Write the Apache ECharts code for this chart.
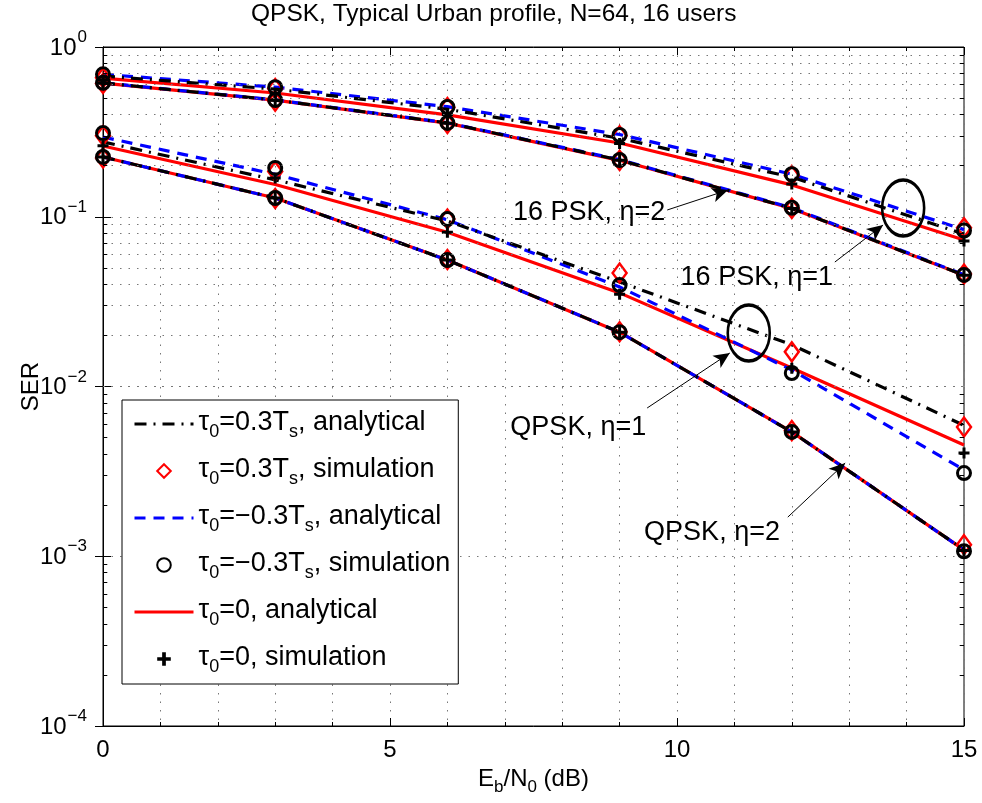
<!DOCTYPE html>
<html><head><meta charset="utf-8">
<script src="https://cdn.jsdelivr.net/npm/echarts@6/dist/echarts.min.js"></script>
<style>html,body{margin:0;padding:0;background:#fff}#c{width:982px;height:803px}</style>
</head><body><div id="c"></div>
<script>
// ---- data (Eb/N0 in dB, SER) ----
const EbN0 = [0, 3, 6, 9, 12, 15];
// groups: A = 16PSK eta=1, B = 16PSK eta=2, C = QPSK eta=1, D = QPSK eta=2
// tau0 = 0.3Ts, analytical
const an03_A = [0.675, 0.565, 0.43, 0.29, 0.171, 0.079];
const an03_B = [0.614, 0.487, 0.357, 0.216, 0.112, 0.0452];
const an03_C = [0.276, 0.165, 0.0944, 0.0413, 0.0176, 0.0059];
const an03_D = [0.225, 0.129, 0.0556, 0.0209, 0.0054, 0.00109];
// tau0 = -0.3Ts, analytical
const anm03_A = [0.69, 0.58, 0.445, 0.305, 0.178, 0.084];
const anm03_B = [0.615, 0.488, 0.358, 0.217, 0.113, 0.0455];
const anm03_C = [0.295, 0.178, 0.096, 0.0386, 0.0125, 0.00323];
const anm03_D = [0.225, 0.129, 0.0556, 0.0209, 0.0054, 0.00109];
// tau0 = 0, analytical
const an0_A = [0.655, 0.536, 0.398, 0.272, 0.154, 0.073];
const an0_B = [0.612, 0.486, 0.356, 0.215, 0.112, 0.0452];
const an0_C = [0.261, 0.155, 0.081, 0.0356, 0.01285, 0.00452];
const an0_D = [0.225, 0.129, 0.0556, 0.0209, 0.0054, 0.00109];
// tau0 = 0.3Ts, simulation
const sim03_A = [0.66, 0.57, 0.44, 0.30, 0.175, 0.086];
const sim03_B = [0.61, 0.48, 0.355, 0.215, 0.112, 0.046];
const sim03_C = [0.30, 0.185, 0.097, 0.0466, 0.016, 0.00577];
const sim03_D = [0.222, 0.128, 0.056, 0.021, 0.0055, 0.00117];
// tau0 = -0.3Ts, simulation
const simm03_A = [0.69, 0.58, 0.443, 0.303, 0.178, 0.083];
const simm03_B = [0.615, 0.487, 0.357, 0.216, 0.113, 0.0454];
const simm03_C = [0.311, 0.194, 0.097, 0.0396, 0.012, 0.00309];
const simm03_D = [0.225, 0.129, 0.0556, 0.0209, 0.0054, 0.00107];
// tau0 = 0, simulation
const sim0_A = [0.64, 0.53, 0.40, 0.27, 0.156, 0.072];
const sim0_B = [0.612, 0.486, 0.356, 0.215, 0.112, 0.0453];
const sim0_C = [0.262, 0.169, 0.081, 0.035, 0.0128, 0.00406];
const sim0_D = [0.225, 0.129, 0.0556, 0.0209, 0.0054, 0.00108];

const xTicks = [0, 5, 10, 15];
const yDecades = [1e-4, 1e-3, 1e-2, 1e-1, 1];

// annotations (data coordinates)
const annoText = ['16 PSK, η=2', '16 PSK, η=1', 'QPSK, η=1', 'QPSK, η=2'];
const annoTextAt = [[8.47, 0.1052], [11.39, 0.0436], [8.28, 0.0057], [10.61, 0.00137]];
const arrowFrom = [[9.83, 0.1096], [12.75, 0.0541], [9.48, 0.00747], [11.93, 0.0017]];
const arrowTo = [[10.89, 0.1438], [13.59, 0.0894], [10.92, 0.01575], [12.93, 0.00354]];
const ellipseAt = [[13.94, 0.1126], [11.25, 0.02066]];

// ---- chart ----
const FONT = '"Liberation Sans", Arial, Helvetica, sans-serif';
const pairs = (ys) => EbN0.map((x, i) => [x, ys[i]]);

const N_AN03 = 'an03', N_SIM03 = 'sim03', N_ANM03 = 'anm03', N_SIMM03 = 'simm03', N_AN0 = 'an0', N_SIM0 = 'sim0';
const legendRich = {
  an03: '{t|τ}{sb|0}{t|=0.3T}{sb|s}{t|, analytical}',
  sim03: '{t|τ}{sb|0}{t|=0.3T}{sb|s}{t|, simulation}',
  anm03: '{t|τ}{sb|0}{t|=−0.3T}{sb|s}{t|, analytical}',
  simm03: '{t|τ}{sb|0}{t|=−0.3T}{sb|s}{t|, simulation}',
  an0: '{t|τ}{sb|0}{t|=0, analytical}',
  sim0: '{t|τ}{sb|0}{t|=0, simulation}'
};

const series = [];
function lineS(name, ys, color, type) {
  series.push({
    type: 'line', name, data: pairs(ys), symbol: 'none', showSymbol: false,
    lineStyle: { color, width: 3.2, type }, itemStyle: { color },
    silent: true, animation: false
  });
}
function markS(name, ys, symbol, size, itemStyle) {
  series.push({
    type: 'line', name, data: pairs(ys), symbol, symbolSize: size, showSymbol: true,
    lineStyle: { width: 0, opacity: 0 }, itemStyle,
    silent: true, animation: false
  });
}
const RED = '#ff0000', BLUE = '#0000ff', BLACK = '#000000';
const DASHDOT = [12, 7, 2, 7], DASH = [11, 8];
[an0_A, an0_B, an0_C, an0_D].forEach(d => lineS(N_AN0, d, RED, 'solid'));
[anm03_A, anm03_B, anm03_C, anm03_D].forEach(d => lineS(N_ANM03, d, BLUE, DASH));
[an03_A, an03_B, an03_C, an03_D].forEach(d => lineS(N_AN03, d, BLACK, DASHDOT));
const DIAMOND = 'path://M5,0L10,6.5L5,13L0,6.5Z';
const PLUS = 'path://M4,0H7V4H11V7H7V11H4V7H0V4H4Z';
[sim03_A, sim03_B, sim03_C, sim03_D].forEach(d => markS(N_SIM03, d, DIAMOND, [14, 19], { color: 'rgba(255,255,255,0)', borderColor: RED, borderWidth: 2.5 }));
[simm03_A, simm03_B, simm03_C, simm03_D].forEach(d => markS(N_SIMM03, d, 'circle', 13, { color: 'rgba(255,255,255,0)', borderColor: BLACK, borderWidth: 3 }));
[sim0_A, sim0_B, sim0_C, sim0_D].forEach(d => markS(N_SIM0, d, PLUS, 11, { color: BLACK }));

// minor log grid lines and minor ticks (2..9 per decade)
const minorY = [];
yDecades.slice(0, -1).forEach(d => { for (let k = 2; k <= 9; k++) minorY.push(+(d * k).toPrecision(3)); });
const X_MIN = 0, X_MAX = 15, MINOR_TICK_DB = 0.075;

series.push({
  type: 'line', name: '__grid', data: [], silent: true, animation: false,
  markLine: {
    silent: true, symbol: 'none', animation: false,
    label: { show: false },
    lineStyle: { color: '#777', width: 1, type: [1.5, 7] },
    data: minorY.map(v => ({ yAxis: v }))
  }
});
series.push({
  type: 'line', name: '__ticks', data: [], silent: true, animation: false, z: 6,
  markLine: {
    silent: true, symbol: 'none', animation: false,
    label: { show: false },
    lineStyle: { color: '#000', width: 1, type: 'solid' },
    data: minorY.map(v => [{ coord: [X_MIN, v] }, { coord: [X_MIN + MINOR_TICK_DB, v] }])
      .concat(minorY.map(v => [{ coord: [X_MAX - MINOR_TICK_DB, v] }, { coord: [X_MAX, v] }]))
  }
});
series.push({
  type: 'line', name: '__anno', data: [], silent: true, animation: false, z: 5,
  markLine: {
    silent: true, animation: false, symbol: ['none', 'arrow'], symbolSize: [11, 16],
    label: { show: false },
    lineStyle: { color: '#000', width: 1, type: 'solid' },
    data: arrowFrom.map((f, i) => [{ coord: f }, { coord: arrowTo[i] }])
  },
  markPoint: {
    silent: true, animation: false,
    data: ellipseAt.map(c => ({
      coord: c, symbol: 'circle', symbolSize: [42, 56],
      itemStyle: { color: 'rgba(0,0,0,0)', borderColor: '#000', borderWidth: 3 },
      label: { show: false }
    })).concat(annoText.map((t, i) => ({
      coord: annoTextAt[i], symbol: 'circle', symbolSize: 1,
      itemStyle: { color: 'rgba(0,0,0,0)' },
      label: { show: true, position: 'inside', formatter: t, fontSize: 27, color: '#000', fontFamily: FONT }
    })))
  }
});

const expLabel = v => {
  const e = Math.round(Math.log10(v));
  return '{b|10}{s|' + (e < 0 ? '−' + (-e) : e) + '}';
};

const legendLine = { width: 3 };
const option = {
  animation: false,
  backgroundColor: '#fff',
  textStyle: { fontFamily: FONT },
  title: {
    text: 'QPSK, Typical Urban profile, N=64, 16 users',
    left: 246, top: -3,
    textStyle: { fontSize: 24.5, fontWeight: 'normal', color: '#000', fontFamily: FONT }
  },
  grid: { left: 103, top: 47, width: 861, height: 679, show: true, borderColor: '#000', borderWidth: 1, backgroundColor: 'rgba(0,0,0,0)' },
  legend: {
    orient: 'vertical', left: 122, top: 400,
    padding: [9, 8, 8, 11], itemWidth: 59, itemHeight: 17, itemGap: 15,
    borderColor: '#000', borderWidth: 1, backgroundColor: '#fff',
    data: [
      { name: N_AN03, itemStyle: { opacity: 0 }, lineStyle: legendLine },
      { name: N_SIM03 },
      { name: N_ANM03, itemStyle: { opacity: 0 }, lineStyle: legendLine },
      { name: N_SIMM03 },
      { name: N_AN0, itemStyle: { opacity: 0 }, lineStyle: legendLine },
      { name: N_SIM0 }
    ],
    formatter: n => legendRich[n],
    selectedMode: false,
    textStyle: {
      color: '#000', fontFamily: FONT,
      rich: {
        t: { fontSize: 27, color: '#000', fontFamily: FONT, verticalAlign: 'top', lineHeight: 30 },
        sb: { fontSize: 18, color: '#000', fontFamily: FONT, verticalAlign: 'top', padding: [14, 0, 0, 0], lineHeight: 19 }
      }
    }
  },
  xAxis: [{
    type: 'value', min: X_MIN, max: X_MAX, interval: 5,
    name: '{t|E}{sb|b}{t|/N}{sb|0}{t| (dB)}', nameLocation: 'middle', nameGap: 32,
    nameTextStyle: {
      rich: {
        t: { fontSize: 24, color: '#000', fontFamily: FONT, verticalAlign: 'top', lineHeight: 26 },
        sb: { fontSize: 17, color: '#000', fontFamily: FONT, verticalAlign: 'top', padding: [12, 0, 0, 0], lineHeight: 18 }
      }
    },
    axisLine: { show: true, lineStyle: { color: '#000', width: 1 } },
    axisTick: { show: true, inside: true, length: 8, lineStyle: { color: '#000' } },
    minorTick: { show: true, splitNumber: 5, length: 4, lineStyle: { color: '#000' } },
    axisLabel: { fontSize: 24, color: '#000', margin: 12, fontFamily: FONT },
    splitLine: { show: true, lineStyle: { color: '#777', width: 1, type: [1.5, 7] } },
    minorSplitLine: { show: true, lineStyle: { color: '#777', width: 1, type: [1.5, 7] } }
  }, {
    type: 'value', min: X_MIN, max: X_MAX, interval: 5, position: 'top',
    axisLine: { show: true, lineStyle: { color: '#000' } },
    axisTick: { show: true, inside: true, length: 8, lineStyle: { color: '#000' } },
    minorTick: { show: true, splitNumber: 5, length: 4, lineStyle: { color: '#000' } },
    axisLabel: { show: false }, splitLine: { show: false }
  }],
  yAxis: [{
    type: 'log', logBase: 10, min: 1e-4, max: 1,
    name: 'SER', nameLocation: 'middle', nameGap: 60, nameMoveOverlap: false,
    nameTextStyle: { fontSize: 24, color: '#000', fontFamily: FONT },
    axisLine: { show: true, lineStyle: { color: '#000', width: 1 } },
    axisTick: { show: true, inside: true, length: 8, lineStyle: { color: '#000' } },
    axisLabel: {
      formatter: expLabel, margin: 16,
      rich: {
        b: { fontSize: 24, color: '#000', fontFamily: FONT, verticalAlign: 'bottom', lineHeight: 26 },
        s: { fontSize: 17, color: '#000', fontFamily: FONT, verticalAlign: 'bottom', lineHeight: 18, padding: [0, 0, 14, 1] }
      }
    },
    splitLine: { show: true, lineStyle: { color: '#777', width: 1, type: [1.5, 7] } }
  }, {
    type: 'log', logBase: 10, min: 1e-4, max: 1, position: 'right',
    axisLine: { show: true, lineStyle: { color: '#000' } },
    axisTick: { show: true, inside: true, length: 8, lineStyle: { color: '#000' } },
    axisLabel: { show: false }, splitLine: { show: false }
  }],
  series
};

const chart = echarts.init(document.getElementById('c'), null, { renderer: 'canvas' });
chart.setOption(option);
</script>
</body></html>
